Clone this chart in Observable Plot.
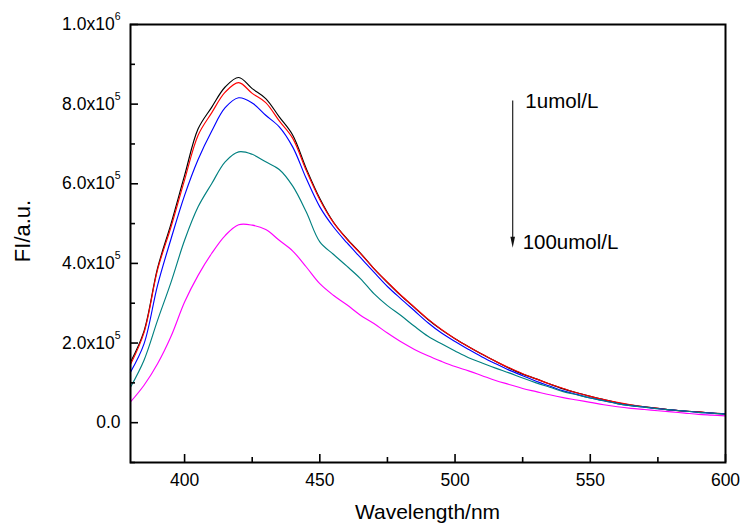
<!DOCTYPE html>
<html>
<head>
<meta charset="utf-8">
<script src="https://cdn.jsdelivr.net/npm/d3@7"></script>
<script src="https://cdn.jsdelivr.net/npm/@observablehq/plot@0.6"></script>
<style>
  html, body { margin: 0; padding: 0; background: #fff; }
</style>
</head>
<body>
<div id="chart"></div>
<script>
// ---- data (fluorescence intensity in units of 1e5 a.u.) ----
const wavelength = [380,385,390,395,400,405,410,415,420,425,430,435,440,445,450,455,460,465,470,475,
  480,485,490,495,500,505,510,515,520,525,530,535,540,545,550,555,560,565,570,575,580,585,590,595,600];

const curveBlack = [1.52,2.30,3.88,5.00,6.21,7.38,7.92,8.43,8.67,8.39,8.14,7.68,7.22,6.38,5.63,5.04,4.62,4.26,3.87,3.52,
  3.19,2.89,2.59,2.33,2.11,1.91,1.72,1.54,1.37,1.22,1.10,0.97,0.85,0.75,0.66,0.58,0.50,0.44,0.40,0.36,0.32,0.29,0.27,0.24,0.22];
const curveRed = [1.46,2.26,3.84,4.92,6.10,7.22,7.78,8.30,8.54,8.27,8.04,7.58,7.14,6.33,5.60,5.03,4.61,4.25,3.87,3.53,
  3.20,2.90,2.60,2.34,2.11,1.91,1.72,1.54,1.38,1.23,1.10,0.97,0.86,0.75,0.66,0.58,0.51,0.45,0.40,0.36,0.32,0.29,0.27,0.24,0.22];
const curveBlue = [1.27,1.98,3.45,4.62,5.71,6.61,7.32,7.91,8.16,8.03,7.72,7.43,6.92,6.13,5.42,4.92,4.52,4.15,3.78,3.42,
  3.11,2.81,2.51,2.25,2.04,1.84,1.65,1.48,1.32,1.18,1.04,0.92,0.80,0.71,0.62,0.55,0.48,0.43,0.39,0.35,0.32,0.29,0.26,0.24,0.22];
const curveTeal = [0.89,1.57,2.57,3.53,4.58,5.42,6.00,6.55,6.80,6.74,6.55,6.36,5.94,5.29,4.54,4.23,3.93,3.62,3.24,2.94,
  2.69,2.42,2.17,1.98,1.80,1.63,1.50,1.37,1.25,1.12,1.00,0.89,0.78,0.70,0.62,0.55,0.48,0.43,0.39,0.35,0.32,0.29,0.26,0.24,0.21];
const curveMagenta = [0.52,0.94,1.48,2.17,3.03,3.70,4.25,4.70,4.97,4.96,4.85,4.58,4.31,3.91,3.49,3.20,2.96,2.70,2.49,2.25,
  2.03,1.84,1.68,1.54,1.41,1.30,1.18,1.06,0.96,0.86,0.78,0.70,0.63,0.57,0.51,0.45,0.40,0.36,0.33,0.30,0.27,0.24,0.21,0.19,0.17];

const seriesNames = ["c1", "c2", "c3", "c4", "c5"];
const seriesValues = [curveBlack, curveRed, curveBlue, curveTeal, curveMagenta];
const seriesColors = ["#000000", "#ff0000", "#0000ff", "#008080", "#ff00ff"];

const xTicks = [400, 450, 500, 550, 600];
const xMinorTicks = [425, 475, 525, 575];
const yTicks = [0, 2, 4, 6, 8, 10];
const yMinorTicks = [-1, 1, 3, 5, 7, 9];
const yTickLabels = ["0.0", "2.0x10^5", "4.0x10^5", "6.0x10^5", "8.0x10^5", "1.0x10^6"];

const xTitle = "Wavelength/nm";
const yTitle = "FI/a.u.";

const annotTexts = ["1umol/L", "100umol/L"];
const annotX = [526, 525];
const annotY = [8.28, 4.72];
const arrowX = 521.5, arrowFrom = 8.08, arrowTo = 4.38;

// ---- build table ----
const rows = [];
seriesValues.forEach((vals, k) => vals.forEach((v, i) => rows.push({wl: wavelength[i], fi: v, s: seriesNames[k]})));
const annots = annotTexts.map((t, i) => ({t, x: annotX[i], y: annotY[i]}));

// ---- layout ----
const W = 742, H = 525, mL = 130, mR = 17, mT = 24, mB = 63;
const fw = W - mL - mR, fh = H - mT - mB;
const font = "'Liberation Sans', Arial, sans-serif";

const arrowMark = (index, scales) => {
  const x = scales.x(arrowX), y1 = scales.y(arrowFrom), y2 = scales.y(arrowTo);
  const g = d3.create("svg:g");
  g.append("line").attr("x1", x).attr("x2", x).attr("y1", y1).attr("y2", y2 - 6)
    .attr("stroke", "#222").attr("stroke-width", 1.2);
  g.append("path").attr("d", `M${x - 2.3},${y2 - 11}L${x},${y2}L${x + 2.3},${y2 - 11}Z`).attr("fill", "#111");
  return g.node();
};

const titleMark = (index, scales, values, dims) => {
  const g = d3.create("svg:g").attr("font-family", font).attr("fill", "black");
  const cx = (dims.marginLeft + dims.width - dims.marginRight) / 2;
  const cy = (dims.marginTop + dims.height - dims.marginBottom) / 2;
  g.append("text").attr("x", cx).attr("y", dims.height - dims.marginBottom + 57)
    .attr("text-anchor", "middle").attr("font-size", 21).text(xTitle);
  g.append("text").attr("transform", `translate(${dims.marginLeft - 100},${cy - 12}) rotate(-90)`)
    .attr("text-anchor", "middle").attr("font-size", 22).text(yTitle);
  return g.node();
};

const chart = Plot.plot({
  width: W, height: H,
  marginLeft: mL, marginRight: mR, marginTop: mT, marginBottom: mB,
  style: {fontFamily: font, background: "white", color: "black", overflow: "visible"},
  x: {domain: [380, 600]},
  y: {domain: [-1, 10]},
  color: {domain: seriesNames, range: seriesColors},
  marks: [
    Plot.line(rows, {x: "wl", y: "fi", z: "s", stroke: "s", strokeWidth: 1.15, curve: "catmull-rom"}),
    Plot.tickX(xTicks, {x: d => d, insetTop: fh - 8, stroke: "black", strokeWidth: 1.6}),
    Plot.tickX(xMinorTicks, {x: d => d, insetTop: fh - 5, stroke: "black", strokeWidth: 1.6}),
    Plot.tickY(yTicks, {y: d => d, insetRight: fw - 8, stroke: "black", strokeWidth: 1.6}),
    Plot.tickY(yMinorTicks, {y: d => d, insetRight: fw - 5, stroke: "black", strokeWidth: 1.6}),
    Plot.frame({stroke: "black", strokeWidth: 2}),
    Plot.axisX(xTicks, {tickSize: 0, tickPadding: 11, fontSize: 17.5, label: null}),
    Plot.axisY(yTicks, {tickSize: 0, tickPadding: 10, fontSize: 17.5, label: null,
      tickFormat: d => yTickLabels[yTicks.indexOf(d)]}),
    Plot.text(annots, {x: "x", y: "y", text: "t", textAnchor: "start", lineAnchor: "top", fontSize: 20.5, fill: "black"}),
    arrowMark,
    titleMark
  ]
});

// superscript exponents in the y tick labels
chart.querySelectorAll("text").forEach(t => {
  const s = t.textContent;
  const k = s.indexOf("^");
  if (k < 0 || t.children.length) return;
  t.textContent = s.slice(0, k);
  const sup = document.createElementNS("http://www.w3.org/2000/svg", "tspan");
  sup.setAttribute("dy", "-10");
  sup.setAttribute("font-size", "10.5");
  sup.textContent = s.slice(k + 1);
  t.appendChild(sup);
});

document.getElementById("chart").appendChild(chart);
</script>
</body>
</html>
